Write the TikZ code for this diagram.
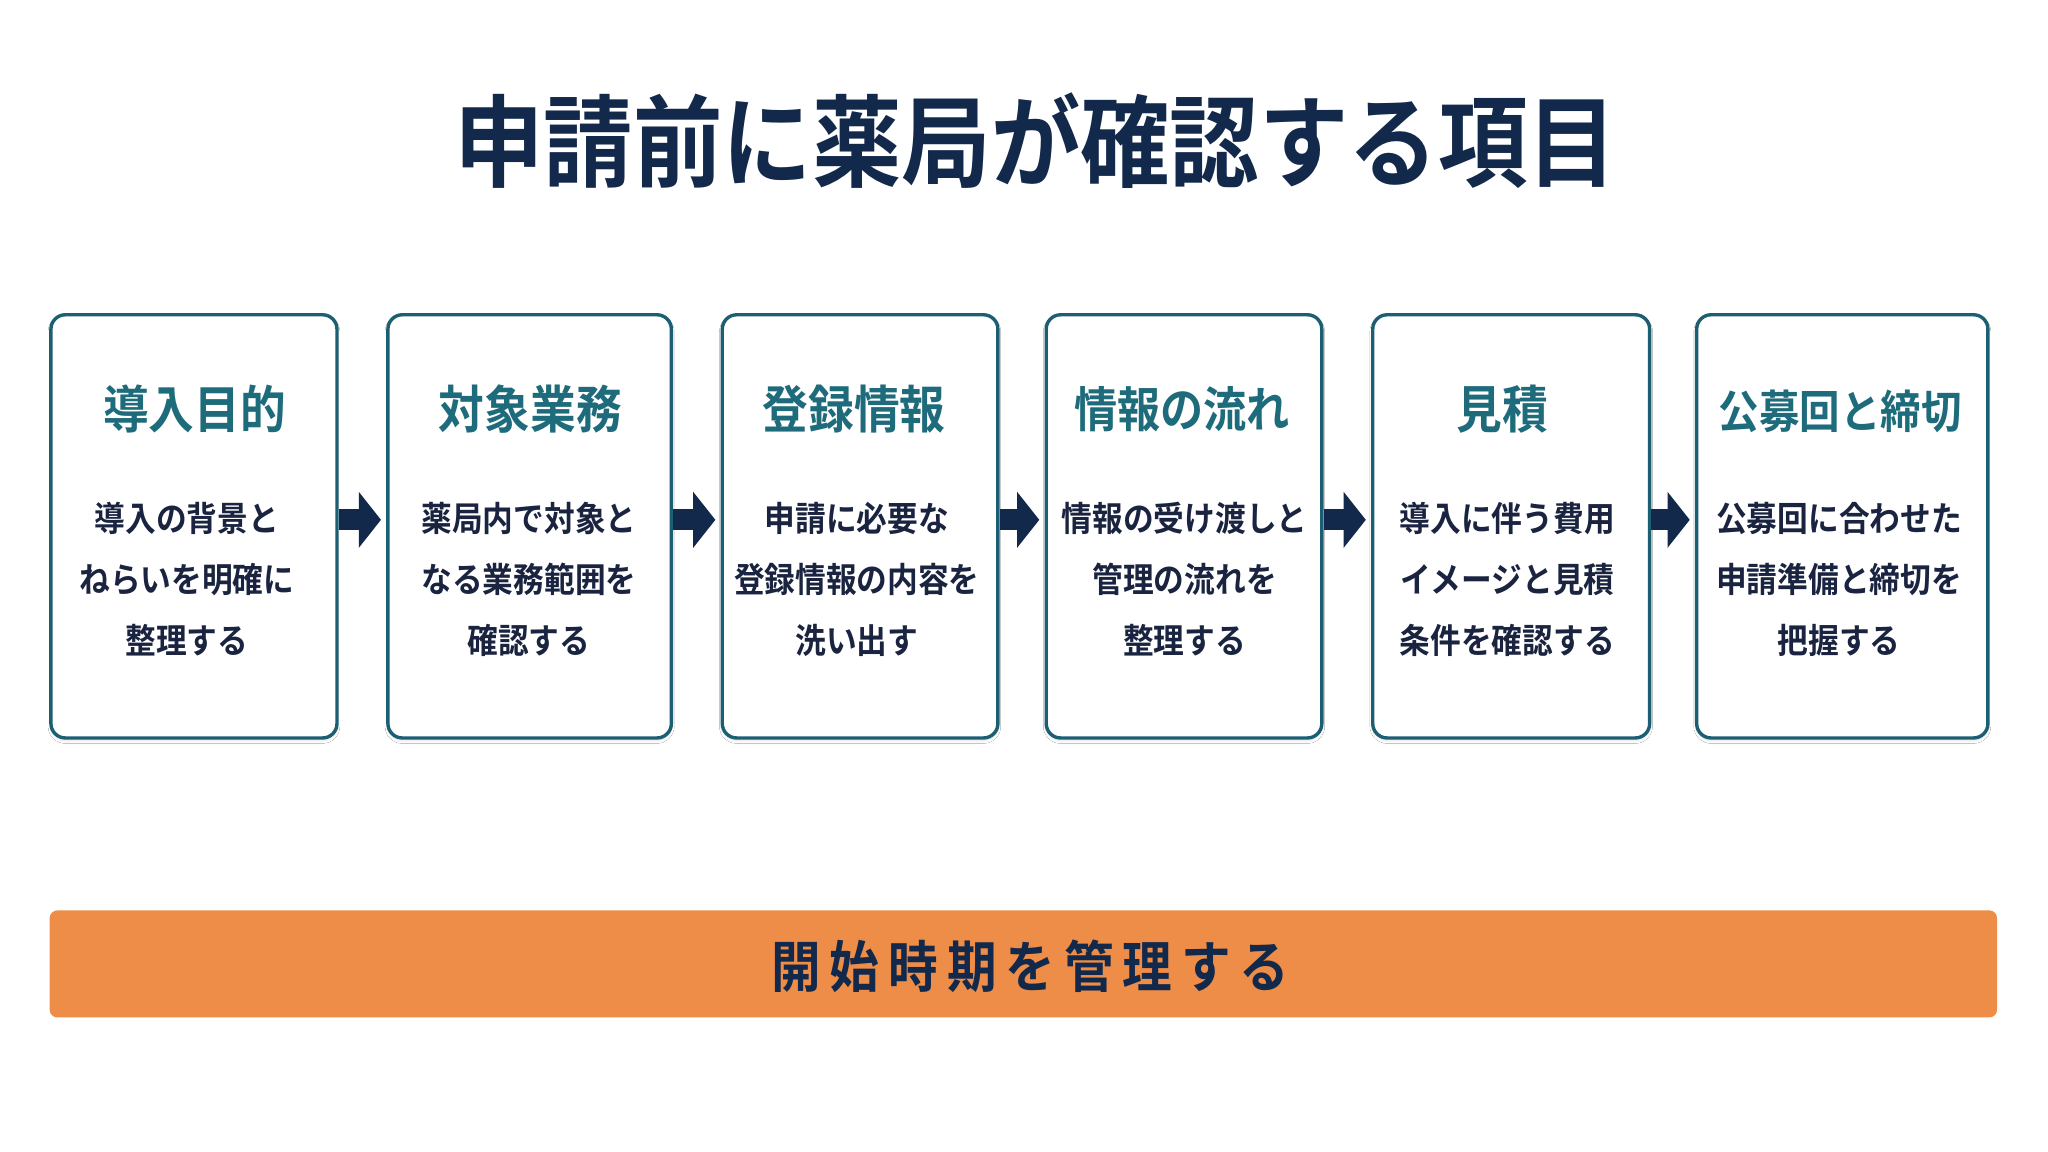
\documentclass[tikz,border=0pt]{standalone}
\usepackage{fontspec}
\setmainfont{Noto Sans CJK JP}[BoldFont={Noto Sans CJK JP Bold}]
\usetikzlibrary{arrows.meta,shadows.blur}
\definecolor{navy}{HTML}{13294B}
\definecolor{teal}{HTML}{1E6B7B}
\definecolor{border}{HTML}{1D5F72}
\definecolor{bodyc}{HTML}{1A2440}
\definecolor{orangebar}{HTML}{EE8D48}
\tikzset{
  card/.style={draw=border, line width=2.6pt, rounded corners=11pt, fill=white,
    minimum height=324pt, inner sep=0pt, blur shadow={shadow blur steps=6, shadow xshift=0pt, shadow yshift=-2pt, shadow opacity=12}},
  tall/.style={yscale=1.12, transform shape},
  cardtitle/.style={tall, text=teal, font=\bfseries\fontsize{35}{40}\selectfont, inner sep=0pt},
  cardbody/.style={tall, text=bodyc, font=\bfseries\fontsize{23.5}{41.5}\selectfont, align=center, inner sep=0pt},
  flow/.style={draw=navy, line width=16pt, -{Triangle[length=17pt,width=42pt]}, shorten >=4pt},
}
\begin{document}
\begin{tikzpicture}[x=1pt,y=-1pt]
\useasboundingbox[fill=white] (0,0) rectangle (1568,882);
\node[tall, text=navy, font=\bfseries\fontsize{68.5}{75}\selectfont, inner sep=0pt] (title) at (793,108) {申請前に薬局が確認する項目};

\node[card, minimum width=219pt] (b1) at (148.5,403) {};
\node[card, minimum width=217pt] (b2) at (405.5,403) {};
\node[card, minimum width=211pt] (b3) at (658.5,403) {};
\node[card, minimum width=211pt] (b4) at (906.5,403) {};
\node[card, minimum width=212pt] (b5) at (1157,403) {};
\node[card, minimum width=223pt] (b6) at (1410.5,403) {};

\node[cardtitle] (t1) at (149,313) {導入目的};
\node[cardtitle] (t2) at (406,313) {対象業務};
\node[cardtitle] (t3) at (654,313) {登録情報};
\node[cardtitle, font=\bfseries\fontsize{33}{40}\selectfont] (t4) at (905,313) {情報の流れ};
\node[cardtitle] (t5) at (1150,313) {見積};
\node[cardtitle, font=\bfseries\fontsize{31}{40}\selectfont] (t6) at (1409,315) {公募回と締切};

\node[cardbody] (d1) at (143,443.5) {導入の背景と\\ねらいを明確に\\整理する};
\node[cardbody] (d2) at (405,443.5) {薬局内で対象と\\なる業務範囲を\\確認する};
\node[cardbody] (d3) at (656,443.5) {申請に必要な\\登録情報の内容を\\洗い出す};
\node[cardbody] (d4) at (907,443.5) {情報の受け渡しと\\管理の流れを\\整理する};
\node[cardbody] (d5) at (1154,443.5) {導入に伴う費用\\イメージと見積\\条件を確認する};
\node[cardbody] (d6) at (1408,443.5) {公募回に合わせた\\申請準備と締切を\\把握する};

\draw[flow] ([yshift=5pt]b1.east) -- ([yshift=5pt]b2.west);
\draw[flow] ([yshift=5pt]b2.east) -- ([yshift=5pt]b3.west);
\draw[flow] ([yshift=5pt]b3.east) -- ([yshift=5pt]b4.west);
\draw[flow] ([yshift=5pt]b4.east) -- ([yshift=5pt]b5.west);
\draw[flow] ([yshift=5pt]b5.east) -- ([yshift=5pt]b6.west);

\node[fill=orangebar, rounded corners=6pt, minimum width=1491pt, minimum height=82pt, inner sep=0pt] (bar) at (783.5,738) {};
\node[tall, text=navy, font=\bfseries\fontsize{38}{44}\selectfont\addfontfeature{LetterSpace=18}, inner sep=0pt] (bartext) at (789,740) {開始時期を管理する};
\end{tikzpicture}
\end{document}
